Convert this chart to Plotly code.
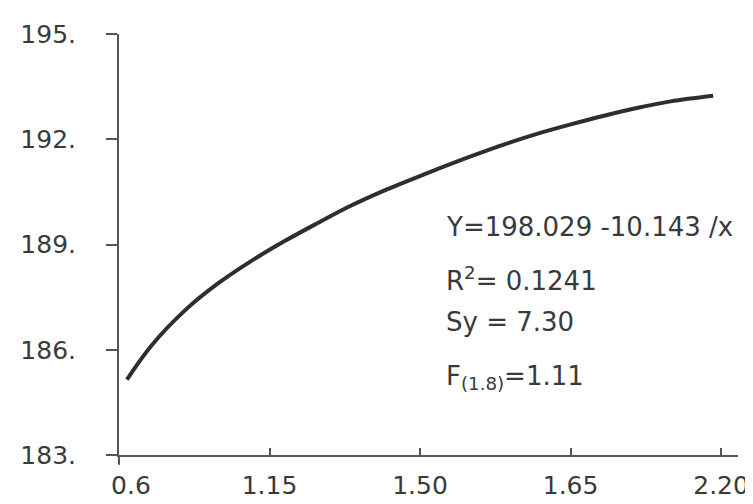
import plotly.graph_objects as go

# Curve
x_vals = [0.621, 0.687, 0.776, 0.863, 0.950, 1.039, 1.126, 1.213, 1.303, 1.416,
          1.540, 1.626, 1.713, 1.803, 1.889, 1.976, 2.066, 2.179]
y_vals = [185.15, 186.13, 187.13, 187.89, 188.52, 189.09, 189.60, 190.09, 190.53, 191.02,
          191.53, 191.86, 192.16, 192.43, 192.67, 192.89, 193.08, 193.24]

# Axis ticks
x_tickvals = [0.6, 1.0, 1.4, 1.8, 2.2]
x_ticktext = ["\u00a0\u00a0\u00a00.6", "1.15", "1.50", "1.65", "2.20"]
y_tickvals = [183, 186, 189, 192, 195]
y_ticktext = ["183.", "186.", "189.", "192.", "195."]

# Regression text lines
stat_lines = ["Y=198.029 -10.143 /x", "R<sup>2</sup>= 0.1241", "Sy = 7.30", "F<sub>(1.8)</sub>=1.11"]
stat_y = [189.50, 188.02, 186.8, 185.22]
stat_x = 1.463

FONT = "DejaVu Sans"
INK = "#3a3a3a"
AXIS = "#555555"

fig = go.Figure()
fig.add_trace(go.Scatter(
    x=x_vals, y=y_vals, mode="lines",
    line=dict(color="#2e2e2e", width=4, shape="spline", smoothing=1.0),
    hoverinfo="skip", showlegend=False,
))

for txt, yy in zip(stat_lines, stat_y):
    fig.add_annotation(x=stat_x, y=yy, xref="x", yref="y", text=txt,
                       showarrow=False, xanchor="left", yanchor="middle",
                       font=dict(family=FONT, size=26, color=INK))

# small overshoots of the axes at the origin
fig.add_shape(type="line", xref="x domain", yref="y domain",
              x0=0, x1=0, y0=0, y1=-0.023, line=dict(color=AXIS, width=2))
fig.add_shape(type="line", xref="x domain", yref="y domain",
              x0=-0.013, x1=0, y0=0, y1=0, line=dict(color=AXIS, width=2))

fig.update_layout(
    width=753, height=504,
    margin=dict(l=110, r=18, t=20, b=42),
    paper_bgcolor="white", plot_bgcolor="white",
    font=dict(family=FONT, size=26, color=INK),
    showlegend=False,
)
fig.update_xaxes(
    range=[0.6, 2.245], tickvals=x_tickvals, ticktext=x_ticktext,
    showgrid=False, zeroline=False, showline=True, linecolor=AXIS, linewidth=2,
    ticks="inside", ticklen=7, tickwidth=2, tickcolor=AXIS,
    ticklabelstandoff=7, tickfont=dict(family=FONT, size=25, color=INK),
)
fig.update_yaxes(
    range=[183, 195], tickvals=y_tickvals, ticktext=y_ticktext,
    showgrid=False, zeroline=False, showline=True, linecolor=AXIS, linewidth=2,
    ticks="outside", ticklen=11, tickwidth=2, tickcolor=AXIS,
    ticklabelstandoff=25, tickfont=dict(family=FONT, size=25, color=INK),
)

fig.write_html("out.html")
